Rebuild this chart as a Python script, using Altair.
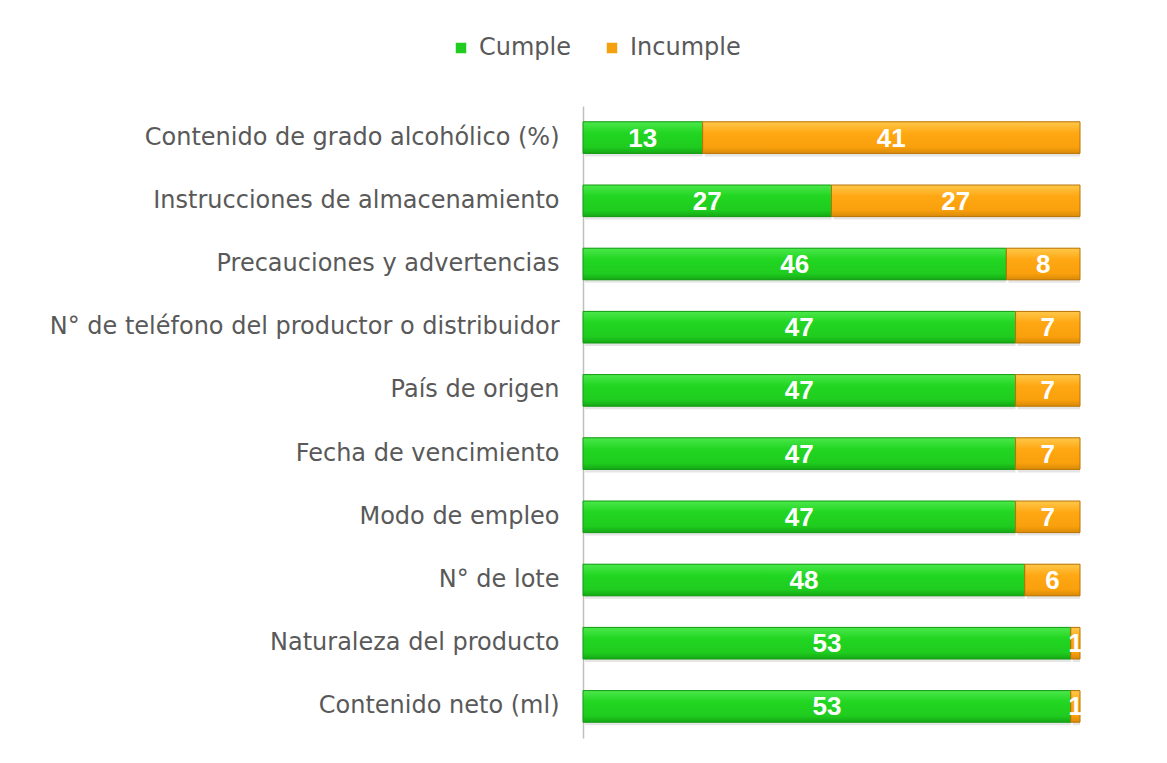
import altair as alt
import pandas as pd

categorias = [
    "Contenido de grado alcohólico (%)",
    "Instrucciones de almacenamiento",
    "Precauciones y advertencias",
    "N° de teléfono del productor o distribuidor",
    "País de origen",
    "Fecha de vencimiento",
    "Modo de empleo",
    "N° de lote",
    "Naturaleza del producto",
    "Contenido neto (ml)",
]
cumple = [13, 27, 46, 47, 47, 47, 47, 48, 53, 53]
incumple = [41, 27, 8, 7, 7, 7, 7, 6, 1, 1]
series = ["Cumple", "Incumple"]

rows = []
for c, a, b in zip(categorias, cumple, incumple):
    rows.append({"cat": c, "serie": "Cumple", "value": a, "ord": 0})
    rows.append({"cat": c, "serie": "Incumple", "value": b, "ord": 1})
df = pd.DataFrame(rows)

green_grad = alt.LinearGradient(
    gradient="linear", x1=0, y1=0, x2=0, y2=1,
    stops=[
        alt.GradientStop(color="#4be84b", offset=0),
        alt.GradientStop(color="#22d622", offset=0.35),
        alt.GradientStop(color="#1fcc1f", offset=0.8),
        alt.GradientStop(color="#15a815", offset=1),
    ],
)
orange_grad = alt.LinearGradient(
    gradient="linear", x1=0, y1=0, x2=0, y2=1,
    stops=[
        alt.GradientStop(color="#ffc84a", offset=0),
        alt.GradientStop(color="#ffa814", offset=0.35),
        alt.GradientStop(color="#f9a00c", offset=0.8),
        alt.GradientStop(color="#d98a08", offset=1),
    ],
)

base = alt.Chart(df).transform_stack(
    stack="value", groupby=["cat"], as_=["x0", "x1"], sort=[alt.SortField("ord")]
).transform_calculate(mid="(datum.x0 + datum.x1) / 2")

y = alt.Y(
    "cat:N",
    sort=categorias,
    title=None,
    scale=alt.Scale(paddingInner=0.5, paddingOuter=0.25),
    axis=alt.Axis(
        labelFont="DejaVu Sans",
        labelFontSize=24,
        labelColor="#595959",
        ticks=False,
        labelPadding=24,
        labelLimit=700,
        domainColor="#bfbfbf",
        domainWidth=1.5,
        grid=False,
    ),
)
x = alt.X("x0:Q", scale=alt.Scale(domain=[0, 54], nice=False), axis=None)
x2 = alt.X2("x1:Q")

shadow = base.mark_bar(color="black", opacity=0.10, yOffset=3, xOffset=2).encode(x=x, x2=x2, y=y)

legend_bars = base.mark_bar().encode(
    x=x, x2=x2, y=y,
    color=alt.Color(
        "serie:N",
        scale=alt.Scale(domain=series, range=["#1fcc1f", "#f5a00f"]),
        legend=alt.Legend(
            title=None,
            orient="none",
            direction="horizontal",
            legendX=-134,
            legendY=-70,
            symbolType="square",
            symbolSize=110,
            symbolStrokeWidth=0,
            labelFont="DejaVu Sans",
            labelFontSize=24,
            labelColor="#595959",
            labelOffset=6,
            columnPadding=28,
        ),
    ),
)

green = base.transform_filter(alt.datum.serie == "Cumple").mark_bar(
    fill=green_grad, stroke="#139a13", strokeWidth=1
).encode(x=x, x2=x2, y=y)
orange = base.transform_filter(alt.datum.serie == "Incumple").mark_bar(
    fill=orange_grad, stroke="#b87406", strokeWidth=1
).encode(x=x, x2=x2, y=y)

labels = base.mark_text(
    color="white", fontWeight="bold", font="Liberation Sans", fontSize=26,
    baseline="middle", dy=1,
).encode(x=alt.X("mid:Q"), y=y, text=alt.Text("value:Q"))

chart = alt.layer(shadow, legend_bars, green, orange, labels).properties(
    width=497,
    height=632,
    autosize=alt.AutoSizeParams(type="none"),
    padding={"left": 575, "top": 98, "right": 79, "bottom": 17},
    background="white",
).configure_view(stroke=None)

chart.save("out.html", embed_options={"renderer": "svg", "actions": False})
